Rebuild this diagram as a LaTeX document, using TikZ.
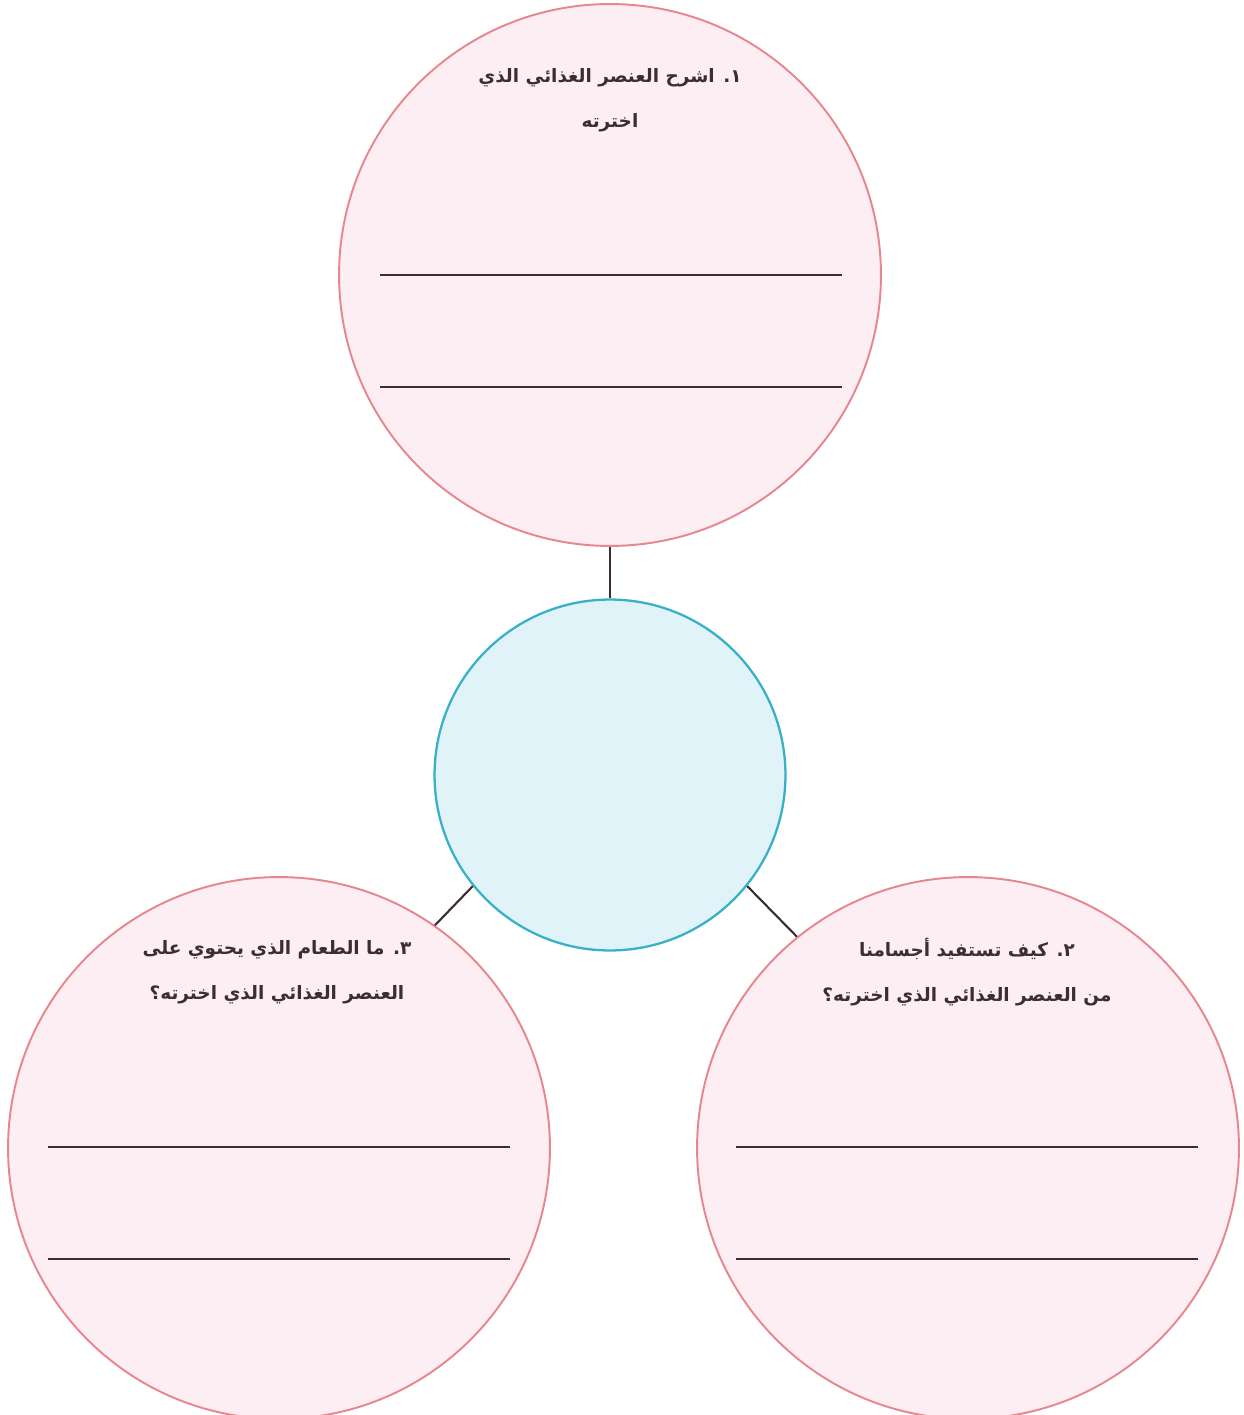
\documentclass[tikz,border=0pt]{standalone}
\usepackage{fontspec}
\newfontfamily\arabicfont[Script=Arabic]{DejaVu Sans}
\TeXXeTstate=1
\definecolor{qfill}{HTML}{FCEEF2}
\definecolor{qdraw}{HTML}{E8868F}
\definecolor{hubfill}{HTML}{DFF3F9}
\definecolor{hubdraw}{HTML}{3AAFC8}
\definecolor{ink}{HTML}{3A2E30}
\tikzset{
  qcircle/.style={circle,draw=qdraw,fill=qfill,line width=1.1pt,minimum size=10.84cm,inner sep=0pt},
  hubcircle/.style={circle,draw=hubdraw,fill=hubfill,line width=1.3pt,minimum size=7.02cm,inner sep=0pt},
  qtext/.style={align=center,text=ink,font=\arabicfont\bfseries\fontsize{10.5}{25.5}\selectfont},
  writeline/.style={draw=ink,line width=1.5pt},
  link/.style={draw=ink,line width=1.2pt}
}
\begin{document}
\begin{tikzpicture}[x=0.02cm,y=-0.02cm]
  \useasboundingbox (0,0) rectangle (1243,1415);
  \clip (0,0) rectangle (1243,1415);
  \node[qcircle] (q1) at (610,275) {};
  \node[qcircle] (q3) at (279,1148) {};
  \node[qcircle] (q2) at (968,1148) {};
  \node[hubcircle] (hub) at (610,775) {};
  \draw[link] (q1) -- (hub);
  \draw[link] (hub.219) -- (q3.55);
  \draw[link] (hub.321) -- (q2.129);
  % lines to write on
  \foreach \y in {275,387} \draw[writeline] (380,\y) -- (842,\y);
  \foreach \y in {1147,1259} {
    \draw[writeline] (48,\y) -- (510,\y);
    \draw[writeline] (736,\y) -- (1198,\y);
  }
  \node[qtext] (t1) at (610,100) {\beginR ١. اشرح العنصر الغذائي الذي\endR\\\beginR اخترته\endR};
  \node[qtext] (t3) at (277,972) {\beginR ٣. ما الطعام الذي يحتوي على\endR\\\beginR العنصر الغذائي الذي اخترته؟\endR};
  \node[qtext] (t2) at (967,972) {\beginR ٢. كيف تستفيد أجسامنا\endR\\\beginR من العنصر الغذائي الذي اخترته؟\endR};
\end{tikzpicture}
\end{document}
